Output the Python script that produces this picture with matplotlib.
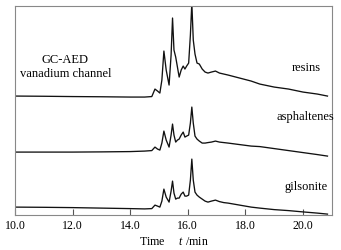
import matplotlib
matplotlib.use('Agg')
matplotlib.rc('font', family='Liberation Serif', size=8.6)
matplotlib.rc('mathtext', fontset='custom', rm='Liberation Serif',
              it='Liberation Serif:italic')
import matplotlib.pyplot as plt

# retention times (min), shared by all three traces
t = [10.0, 11.0, 12.0, 13.0, 14.0, 14.5, 14.75, 14.86, 14.95, 15.03,
     15.10, 15.17, 15.25, 15.35, 15.42, 15.47, 15.52, 15.58, 15.64, 15.70,
     15.77, 15.84, 15.90, 15.96, 16.03, 16.09, 16.14, 16.19, 16.25, 16.32,
     16.40, 16.50, 16.60, 16.70, 16.82, 16.96, 17.10, 17.25, 17.40, 17.80,
     18.20, 18.50, 19.00, 19.50, 20.00, 20.50, 20.85]

# vanadium channel signal (stacked, arbitrary units)
resins = [119, 118.8, 118.5, 118.3, 118, 118, 118.5, 126, 124, 122,
          135, 164, 145, 130, 160, 197, 165, 158, 148, 138,
          145, 149, 146, 149, 152, 180, 212, 175, 161, 152,
          151, 146, 143, 142, 143, 144, 142, 141, 140, 137,
          134, 131, 128, 126, 123, 121, 119]

asphaltenes = [63, 63, 63, 63.2, 63.5, 64, 64.5, 68, 66, 65,
               72, 84, 75, 68, 80, 91, 80, 73, 75, 76,
               80, 83, 78, 79, 80, 92, 108, 92, 79, 76,
               74, 72, 72, 72.5, 73, 74, 73, 72.5, 72, 70.5,
               69, 68.5, 66.5, 64.5, 62.5, 60.5, 59]

gilsonite = [8, 7.8, 7.5, 7, 6.5, 6.2, 6.5, 10, 9, 8,
             14, 26, 18, 13, 24, 34, 22, 16, 17, 17,
             21, 23, 19, 19, 20, 35, 56, 35, 23, 20,
             18, 16, 14, 13, 14, 15, 13.5, 12.5, 12, 10,
             8, 7, 5.5, 4.5, 3.2, 2, 1]

fig = plt.figure(figsize=(3.41, 2.51), dpi=100)
ax = fig.add_axes([0.044, 0.139, 0.929, 0.833])

for y in (resins, asphaltenes, gilsonite):
    ax.plot(t, y, color='#111111', lw=0.95)

ax.set_xlim(10, 21)
ax.set_ylim(0, 209)
ax.set_xticks([10, 12, 14, 16, 18, 20])
ax.set_xticklabels(['10.0', '12.0', '14.0', '16.0', '18.0', '20.0'])
ax.set_yticks([])
ax.tick_params(axis='x', direction='in', length=4, width=0.8, pad=3, color='#555555')
for s in ax.spines.values():
    s.set_color('#888888')
    s.set_linewidth(0.8)

ax.set_xlabel('Time     $\\it{t}$ /min', fontsize=8.6, labelpad=3)

ax.text(11.75, 156, 'GC-AED', ha='center', va='center', fontsize=9)
ax.text(11.75, 142, 'vanadium channel', ha='center', va='center', fontsize=9)
ax.text(20.1, 148, 'resins', ha='center', va='center', fontsize=9)
ax.text(20.1, 99, 'asphaltenes', ha='center', va='center', fontsize=9)
ax.text(20.1, 29, 'gilsonite', ha='center', va='center', fontsize=9)

plt.savefig('out.png', dpi=100)
